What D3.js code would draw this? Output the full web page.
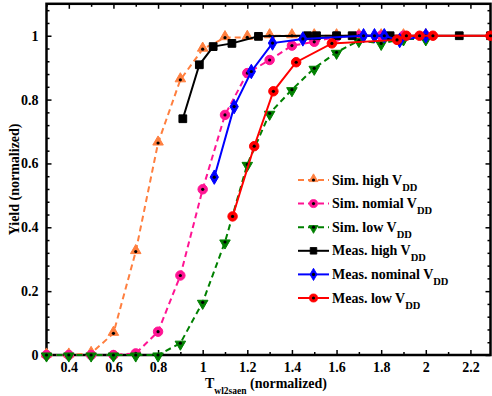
<!DOCTYPE html>
<html>
<head>
<meta charset="utf-8">
<script src="https://cdn.jsdelivr.net/npm/d3@7"></script>
<style>
  body { margin: 0; background: #fff; }
  svg text { font-family: "Liberation Serif", "Times New Roman", serif; font-weight: bold; }
</style>
</head>
<body>
<div id="chart"></div>
<script>
// simulated curves share one x grid
const simX = [0.3, 0.4, 0.5, 0.6, 0.7, 0.8, 0.9, 1.0, 1.1, 1.2, 1.3, 1.4, 1.5, 1.6, 1.7, 1.8, 1.9, 2.0];
const simHigh = [0, 0, 0.005, 0.068, 0.324, 0.664, 0.862, 0.958, 0.994, 0.995, 1, 1, 1, 1, 1, 1, 1, 1];
const simNominal = [0, 0, 0, 0, 0.005, 0.073, 0.249, 0.519, 0.752, 0.883, 0.924, 0.969, 0.981, 0.997, 1, 1, 1, 1];
const simLow = [0, 0, 0, 0, 0, 0, 0.037, 0.165, 0.354, 0.597, 0.757, 0.831, 0.898, 0.948, 0.985, 0.976, 0.99, 0.99];

// measured curves
const measHighX = [0.911, 0.985, 1.047, 1.131, 1.25, 1.47, 1.51, 1.6, 1.67, 1.84, 2.15, 2.29];
const measHighY = [0.74, 0.909, 0.966, 0.976, 0.998, 1, 1, 1, 1, 1, 1, 1];
const measNomX = [1.052, 1.141, 1.218, 1.313, 1.449, 1.721, 1.77, 1.814, 1.883, 2.0];
const measNomY = [0.557, 0.778, 0.888, 0.977, 0.99, 1, 1, 1, 0.985, 1];
const measLowX = [1.134, 1.231, 1.317, 1.419, 1.579, 1.871, 1.913, 1.972, 2.032, 2.29];
const measLowY = [0.434, 0.654, 0.826, 0.917, 0.976, 0.987, 1, 1, 1, 1];

const xMajor = [0.4, 0.6, 0.8, 1.0, 1.2, 1.4, 1.6, 1.8, 2.0, 2.2];
const yMajor = [0, 0.2, 0.4, 0.6, 0.8, 1.0];

const series = [
  { name: 'Sim. high V', x: simX, y: simHigh, color: '#ff7f3f', dash: '6,4', marker: 'triUp', dot: true },
  { name: 'Sim. nomial V', x: simX, y: simNominal, color: '#ff1493', dash: '6,4', marker: 'circle', dot: true },
  { name: 'Sim. low V', x: simX, y: simLow, color: '#008000', dash: '6,4', marker: 'triDown', dot: true },
  { name: 'Meas. high V', x: measHighX, y: measHighY, color: '#000000', dash: null, marker: 'square', dot: false },
  { name: 'Meas. nominal V', x: measNomX, y: measNomY, color: '#0000ff', dash: null, marker: 'diamond', dot: true },
  { name: 'Meas. low V', x: measLowX, y: measLowY, color: '#ff0000', dash: null, marker: 'circle', dot: true },
];

const W = 492, H = 396;
const plot = { left: 46.5, right: 490.5, top: 3.8, bottom: 355 };

const svg = d3.select('#chart').append('svg')
  .attr('width', W).attr('height', H);

const x = d3.scaleLinear().domain([0.3, 2.29]).range([plot.left, plot.right]);
const y = d3.scaleLinear().domain([0, 1.1]).range([plot.bottom, plot.top]);

const fmt = (d) => (Math.abs(d - Math.round(d)) < 1e-9 ? String(Math.round(d)) : d.toFixed(1));

const xMinor = d3.range(0.3, 2.29, 0.2).map((d) => +d.toFixed(2));
const yMinor = d3.range(0, 1.1, 0.04).map((d) => +d.toFixed(2)).filter((d) => !yMajor.some((m) => Math.abs(m - d) < 1e-6));

function styleAxis(g) {
  g.select('.domain').remove();
  g.selectAll('line').attr('stroke', '#000').attr('stroke-width', 1.5);
  g.selectAll('text').attr('fill', '#000').attr('font-size', 14);
}

// bottom axis: labels + inward ticks
svg.append('g')
  .attr('transform', `translate(0,${plot.bottom})`)
  .call(d3.axisBottom(x).tickValues(xMajor).tickFormat(fmt).tickSize(-5).tickPadding(7))
  .call(styleAxis);
svg.append('g')
  .attr('transform', `translate(0,${plot.bottom})`)
  .call(d3.axisBottom(x).tickValues(xMinor).tickFormat('').tickSize(-3))
  .call(styleAxis);
// top ticks
svg.append('g')
  .attr('transform', `translate(0,${plot.top})`)
  .call(d3.axisTop(x).tickValues(xMajor).tickFormat('').tickSize(-5))
  .call(styleAxis);
svg.append('g')
  .attr('transform', `translate(0,${plot.top})`)
  .call(d3.axisTop(x).tickValues(xMinor).tickFormat('').tickSize(-3))
  .call(styleAxis);

// left axis
svg.append('g')
  .attr('transform', `translate(${plot.left},0)`)
  .call(d3.axisLeft(y).tickValues(yMajor).tickFormat(fmt).tickSize(-5).tickPadding(8))
  .call(styleAxis);
svg.append('g')
  .attr('transform', `translate(${plot.left},0)`)
  .call(d3.axisLeft(y).tickValues(yMinor).tickFormat('').tickSize(-3))
  .call(styleAxis);
// right ticks
svg.append('g')
  .attr('transform', `translate(${plot.right},0)`)
  .call(d3.axisRight(y).tickValues(yMajor).tickFormat('').tickSize(-5))
  .call(styleAxis);
svg.append('g')
  .attr('transform', `translate(${plot.right},0)`)
  .call(d3.axisRight(y).tickValues(yMinor).tickFormat('').tickSize(-3))
  .call(styleAxis);

// frame
svg.append('rect')
  .attr('x', plot.left).attr('y', plot.top)
  .attr('width', plot.right - plot.left).attr('height', plot.bottom - plot.top)
  .attr('fill', 'none').attr('stroke', '#000').attr('stroke-width', 2.5);

const markerPath = {
  triUp: d3.symbol().type(d3.symbolTriangle).size(48)(),
  triDown: d3.symbol().type(d3.symbolTriangle).size(48)(),
  circle: d3.symbol().type(d3.symbolCircle).size(70)(),
  square: d3.symbol().type(d3.symbolSquare).size(60)(),
  diamond: d3.symbol().type(d3.symbolDiamond).size(60)(),
};

function drawMarker(g, s, cx, cy, scale = 1) {
  const rot = s.marker === 'triDown' ? 180 : 0;
  const dy = s.marker === 'triUp' ? -1 : s.marker === 'triDown' ? 1 : 0;
  g.append('path')
    .attr('d', markerPath[s.marker])
    .attr('transform', `translate(${cx},${cy + dy}) rotate(${rot}) scale(${scale})`)
    .attr('fill', s.color)
    .attr('stroke', s.color)
    .attr('stroke-width', 1);
  if (s.dot) {
    g.append('circle').attr('cx', cx).attr('cy', cy).attr('r', 1.6).attr('fill', '#000');
  }
}

const line = d3.line().x((d) => x(d[0])).y((d) => y(d[1]));

series.forEach((s) => {
  const pts = s.x.map((v, i) => [v, s.y[i]]);
  const g = svg.append('g');
  g.append('path')
    .datum(pts)
    .attr('fill', 'none')
    .attr('stroke', s.color)
    .attr('stroke-width', 2)
    .attr('stroke-dasharray', s.dash)
    .attr('d', line);
  pts.forEach((p) => drawMarker(g, s, x(p[0]), y(p[1])));
});

// legend
const legend = svg.append('g').attr('transform', 'translate(298,180)');
series.forEach((s, i) => {
  const row = legend.append('g').attr('transform', `translate(0,${i * 23.6})`);
  row.append('line')
    .attr('x1', 0).attr('x2', 31).attr('y1', 0).attr('y2', 0)
    .attr('stroke', s.color).attr('stroke-width', 2)
    .attr('stroke-dasharray', s.dash ? '6,4' : null);
  drawMarker(row, s, 15.5, 0, 0.85);
  const t = row.append('text')
    .attr('x', 34).attr('y', 4.5)
    .attr('font-size', 14).attr('fill', '#000');
  t.append('tspan').text(s.name);
  t.append('tspan').attr('dy', 6).attr('font-size', 10.5).text('DD');
});

// axis titles
const xt = svg.append('text')
  .attr('x', 205).attr('y', 387.5)
  .attr('font-size', 14).attr('fill', '#000');
xt.append('tspan').text('T');
xt.append('tspan').attr('dy', 6.5).attr('font-size', 9.5).text('wl2saen');
xt.append('tspan').attr('dy', -6.5).text(' (normalized)');

svg.append('text')
  .attr('transform', `translate(19,${(plot.top + plot.bottom) / 2}) rotate(-90)`)
  .attr('text-anchor', 'middle').attr('font-size', 14).attr('fill', '#000')
  .text('Yield (normalized)');
</script>
</body>
</html>
